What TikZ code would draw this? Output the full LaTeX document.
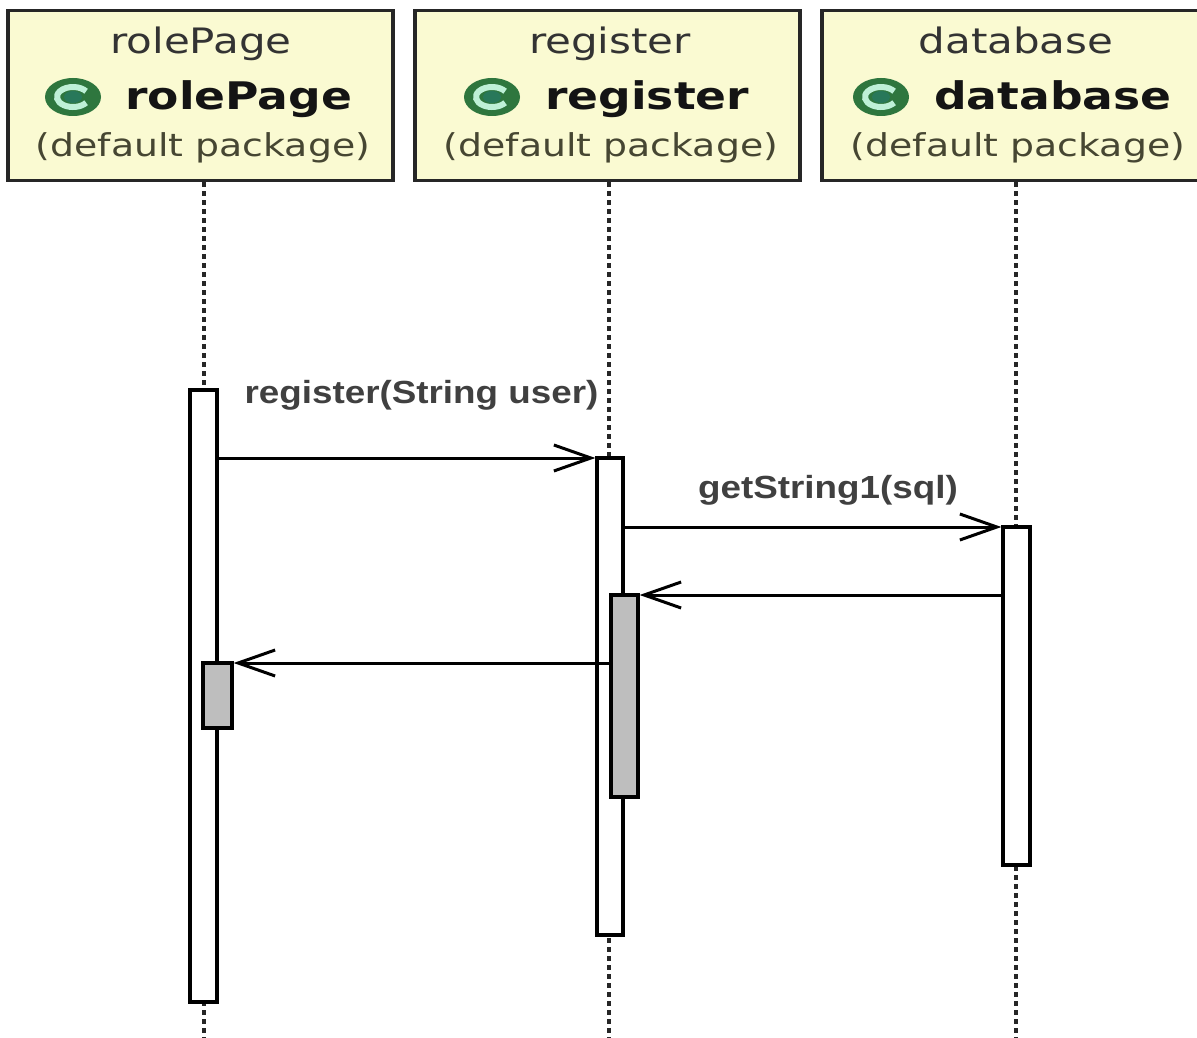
\documentclass[tikz,border=0pt]{standalone}
\usepackage{fontspec}
\setmainfont{DejaVu Sans}
\newfontfamily\hdrfont[FakeStretch=1.2]{DejaVu Sans}
\newfontfamily\msgfont[FakeStretch=1.15]{Liberation Sans}
\usetikzlibrary{arrows.meta}
\definecolor{boxfill}{RGB}{250,250,210}
\definecolor{msgcol}{RGB}{64,64,64}
\definecolor{icondark}{RGB}{46,118,62}
\definecolor{iconlight}{RGB}{190,240,215}
\definecolor{iconmid}{RGB}{40,120,90}
\definecolor{pkgcol}{RGB}{70,70,50}
\definecolor{actgray}{RGB}{190,190,190}
\begin{document}
\begin{tikzpicture}[x=1pt,y=-1pt,
  hbox/.style={draw=black!85, line width=3.6pt, fill=boxfill, minimum width=385pt, minimum height=170pt, inner sep=0pt},
  act/.style={draw=black, line width=3.2pt, fill=white, minimum width=27pt, inner sep=0pt},
  actg/.style={act, fill=actgray},
  life/.style={line width=3.4pt, dash pattern=on 4.5pt off 4.5pt, black!85},
  msg/.style={line width=3pt, -{Straight Barb[length=37pt,width=26pt]}},
  toptxt/.style={anchor=base, text=black!80, font=\hdrfont\fontsize{35}{40}\selectfont, inner sep=0pt},
  boldtxt/.style={anchor=base west, text=black!92, font=\hdrfont\bfseries\fontsize{38}{44}\selectfont, inner sep=0pt},
  pkgtxt/.style={anchor=base, text=pkgcol, font=\hdrfont\fontsize{31.5}{36}\selectfont, inner sep=0pt},
  lbl/.style={anchor=base, text=msgcol, font=\msgfont\bfseries\fontsize{32}{38}\selectfont, inner sep=0pt},
  classicon/.pic={
    \fill[icondark] (0,0) ellipse [x radius=28, y radius=19];
    \draw[iconlight, line width=6pt] (35:16 and 10) arc [start angle=35, end angle=325, x radius=16, y radius=10];
    \fill[iconmid] (0,0) ellipse [x radius=9, y radius=6];
  }
]
\useasboundingbox (0,0) rectangle (1197,1038);
\fill[white] (0,0) rectangle (1197,1038);

% header boxes
\node[hbox] (h1) at (200.5,95.5) {};
\node[hbox] (h2) at (607.5,95.5) {};
\node[hbox, minimum width=390pt] (h3) at (1017,95.5) {};

% header texts
\node[toptxt] (t1) at (201,54) {rolePage};
\pic at (73,97) {classicon};
\node[boldtxt] (n1) at (125,110) {rolePage};
\node[pkgtxt] (p1) at (203,157) {(default package)};

\node[toptxt] (t2) at (610,54) {register};
\pic at (492,97) {classicon};
\node[boldtxt] (n2) at (545,110) {register};
\node[pkgtxt] (p2) at (611,157) {(default package)};

\node[toptxt] (t3) at (1016,54) {database};
\pic at (881,97) {classicon};
\node[boldtxt] (n3) at (934,110) {database};
\node[pkgtxt] (p3) at (1018,157) {(default package)};

% lifelines
\coordinate (e1) at (204,1038);
\coordinate (e2) at (609,1038);
\coordinate (e3) at (1016,1038);
\draw[life] (h1.south -| e1) -- (e1);
\draw[life] (h2.south -| e2) -- (e2);
\draw[life] (h3.south -| e3) -- (e3);

% activations
\node[act, minimum height=612pt] (a1) at (203.5,696) {};
\node[actg, minimum width=29pt, minimum height=65pt] (b1) at (217.5,695.5) {};
\node[act, minimum width=26pt, minimum height=477pt] (a2) at (610,696.5) {};
\node[actg, minimum height=202pt] (b2) at (624.5,696) {};
\node[act, minimum height=338pt] (a3) at (1016.5,696) {};

% message rows
\coordinate (y1) at (0,458);
\coordinate (y2) at (0,527);
\coordinate (y3) at (0,595);
\coordinate (y4) at (0,663);

\draw[msg] (a1.east |- y1) -- (a2.west |- y1);
\draw[msg] (a2.east |- y2) -- (a3.west |- y2);
\draw[msg] (a3.west |- y3) -- (b2.east |- y3);
\draw[msg] (b2.west |- y4) -- (b1.east |- y4);

% labels
\node[lbl] (l1) at (421.5,403) {register(String user)};
\node[lbl] (l2) at (828,498) {getString1(sql)};
\end{tikzpicture}
\end{document}
